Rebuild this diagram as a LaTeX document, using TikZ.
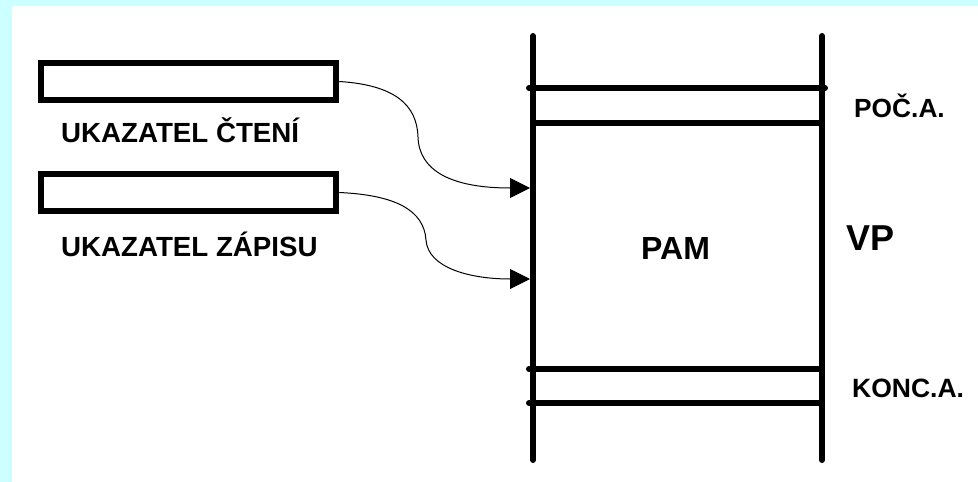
\documentclass[tikz,border=0pt]{standalone}
\usepackage{fontspec}
\setmainfont{Liberation Sans}
\usetikzlibrary{arrows.meta}
\definecolor{bgcyan}{RGB}{204,255,255}
\tikzset{
  ptrbox/.style={draw=black, line width=6.5pt, minimum width=295pt, minimum height=37pt, inner sep=0pt, fill=white},
  thick line/.style={line width=6pt, line cap=round},
  link/.style={line width=1pt, -{Triangle[length=20pt,width=20pt]}},
  lbl/.style={anchor=base west, inner sep=0pt, font=\bfseries\fontsize{27.7}{30}\selectfont},
}
\begin{document}
\begin{tikzpicture}[x=1pt,y=-1pt]
  \useasboundingbox (0,0) rectangle (978,482);
  \fill[bgcyan] (0,0) rectangle (978,482);
  \fill[white] (12,6) rectangle (978,482);

  % pointer boxes
  \node[ptrbox] (b1) at (188.5,81.5) {};
  \node[ptrbox] (b2) at (188.5,192.5) {};
  \node[lbl] (l1) at (61,142) {UKAZATEL ČTENÍ};
  \node[lbl] (l2) at (61,256) {UKAZATEL ZÁPISU};

  % memory area
  \draw[thick line] (533,36) -- (533,460);
  \draw[thick line] (822,36) -- (822,460);
  \draw[thick line] (529,88) -- (825,88);
  \draw[line width=6pt] (533,123) -- (822,123);
  \draw[thick line] (529,369) -- (822,369);
  \draw[thick line] (529,403) -- (822,403);

  \node[lbl, font=\bfseries\fontsize{26.3}{30}\selectfont] (poc) at (854,117) {POČ.A.};
  \node[lbl, font=\bfseries\fontsize{26.5}{30}\selectfont] (konc) at (852,397) {KONC.A.};
  \node[lbl, font=\bfseries\fontsize{32}{34}\selectfont] (pam) at (641,259) {PAM};
  \node[lbl, font=\bfseries\fontsize{36}{38}\selectfont] (vp) at (846,250) {VP};

  \coordinate (t1) at (530,188);
  \coordinate (t2) at (530,279);

  \draw[link] (b1.east) .. controls (395,85) and (417,105) .. (418,137)
                        .. controls (419,170) and (450,188) .. (t1);
  \draw[link] (b2.east) .. controls (395,195) and (424,210) .. (426,240)
                        .. controls (428,268) and (470,279) .. (t2);
\end{tikzpicture}
\end{document}
